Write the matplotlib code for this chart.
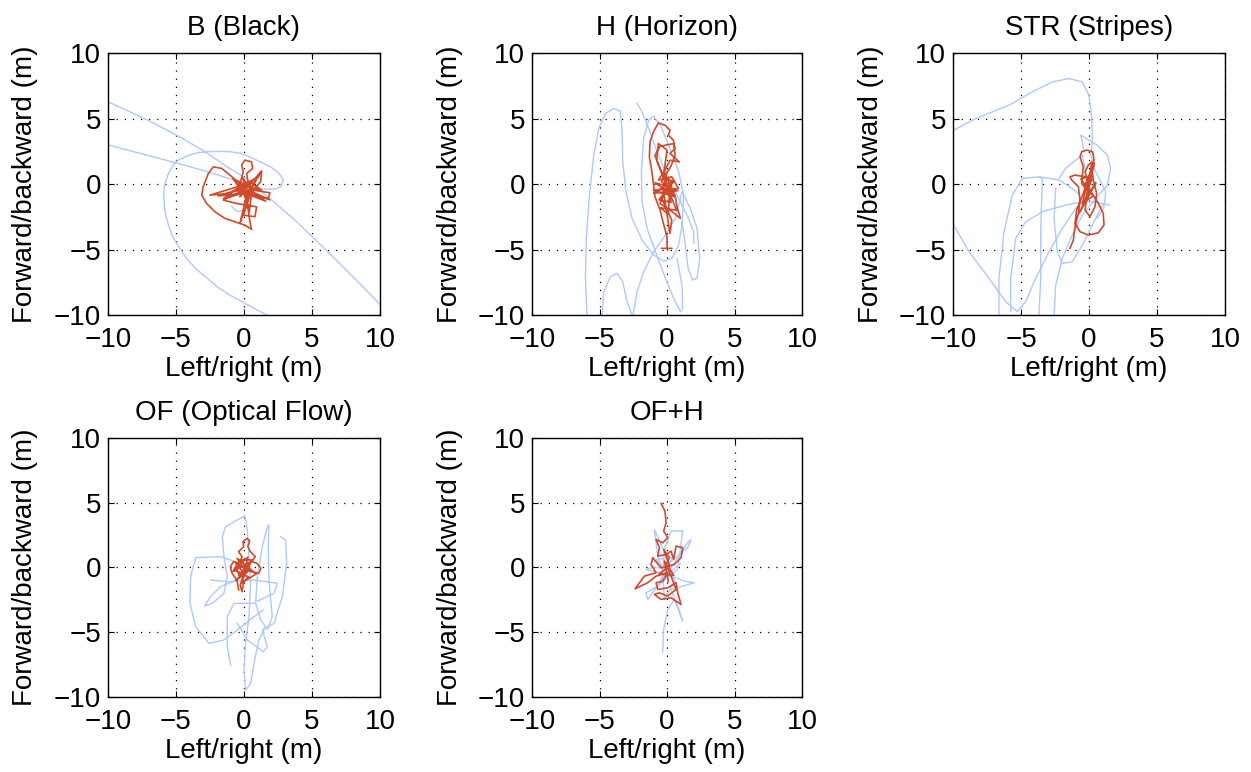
import numpy as np
import matplotlib
matplotlib.use("Agg")
import matplotlib.pyplot as plt

N = float("nan")  # breaks a track into separate pieces

titles = ["B (Black)", "H (Horizon)", "STR (Stripes)", "OF (Optical Flow)", "OF+H"]
ticks = [-10, -5, 0, 5, 10]

# B (Black)
b_blue = [(-10, 6.3), (-7.1, 4.9), (-4.7, 3.6), (-2.9, 2.5), (-1.2, 1.3), (0.2, 0.4), (1.2, -0.5),
          (2.2, -1.35), (3.9, -2.9), (6.4, -5.4), (8.8, -7.9), (10, -9.2), (N, N),
          (-10, 3.0), (-7.1, 2.2), (-4.9, 1.6), (-2.7, 0.95), (-0.7, 0.3), (0, 0.2), (N, N),
          (0.25, -0.3), (1.7, -0.4), (2.4, -0.35), (2.7, -0.2), (2.9, 0.3), (2.7, 0.65), (2.45, 0.95),
          (1.9, 1.35), (1.2, 1.7), (0.5, 2.05), (-0.25, 2.35), (-1.0, 2.48), (-1.7, 2.5), (-2.6, 2.48),
          (-3.4, 2.4), (-4.2, 2.15), (-4.9, 1.8), (-5.3, 1.3), (-5.6, 0.7), (-5.85, -0.1), (-5.9, -0.85),
          (-5.85, -1.65), (-5.75, -2.4), (-5.55, -3.15), (-5.3, -3.9), (-4.8, -4.8), (-4.2, -5.7),
          (-3.5, -6.5), (-2.7, -7.2), (-1.9, -7.9), (-1.0, -8.5), (-0.1, -9.0), (0.75, -9.5), (1.7, -10),
          (N, N), (-0.9, -1.7), (-0.5, -2.1), (-0.1, -2.0)]
b_red = [(-0.05, -0.2), (-1.03, 0.69), (-1.64, 1.2), (-2.25, 1.32), (-2.62, 0.81), (-3.0, -0.2),
         (-3.1, -0.84), (-2.75, -1.48), (-2.13, -2.11), (-1.4, -2.62), (-0.66, -2.88), (0.07, -3.13),
         (0.56, -3.46), (0.44, -2.88), (0.32, -1.98), (0.07, -0.97), (-0.29, 0.05), (-0.05, 0.94),
         (-0.17, 1.45), (0.07, 1.83), (0.56, 1.7), (0.64, 1.2), (0.2, 0.81), (0.32, 0.05), (-2.5, -0.84),
         (-1.03, -0.71), (1.05, 0.56), (1.3, 1.02), (1.23, 0.18), (0.69, -0.46), (1.91, -0.66),
         (1.79, -1.09), (0.93, -0.97), (-0.29, -0.59), (-1.52, -1.22), (-0.54, -1.48), (0.93, -1.73),
         (0.81, -2.49), (-0.05, -2.37), (0.32, -1.22), (-0.54, 0.05), (0.2, -0.2), (1.3, -0.46),
         (0.44, 0.18), (-0.29, -0.97), (0.07, -0.33), (0.2, -0.4), (1.6, -1.3), (0.1, -0.7),
         (-1.9, -0.9), (0.3, -0.2), (1.2, 0.9), (0.2, -1.0), (-0.8, 0.4), (0.6, -0.3), (0.4, -2.1),
         (0.0, -0.3), (1.9, -1.2), (0.3, -0.6), (-1.5, -1.1), (-0.2, -0.1), (0.9, 0.4), (0.1, -1.3),
         (-0.3, -3.0), (0.2, -1.6), (0.5, -0.1), (-0.6, -0.5), (0.8, -0.8), (-0.1, 0.5), (0.4, -1.1)]

# H (Horizon)
h_blue = [(-5.93, -10), (-6.05, -7.2), (-5.98, -4.15), (-5.75, -0.84), (-5.43, 2.21), (-5.06, 4.25),
          (-4.57, 5.39), (-3.95, 5.78), (-3.46, 5.57), (-3.33, 4.0), (-3.28, 1.7), (-3.04, -0.59),
          (-2.59, -2.62), (-1.85, -4.27), (-0.99, -5.42), (-0.25, -5.88), (0.37, -5.67), (0.86, -4.66),
          (1.11, -3.13), (1.23, -0.84), (0.86, 0.94), (0.12, 2.98), (-0.49, 4.5), (-0.99, 5.19),
          (-1.36, 4.89), (-1.73, 3.49), (-1.9, 0.94), (-1.85, -1.35), (-1.48, -3.38), (-0.86, -5.17),
          (-0.12, -7.2), (0.49, -8.73), (0.99, -9.75), (1.16, -9.49), (1.11, -7.71), (0.74, -5.67), (N, N),
          (-2.22, 6.16), (-1.85, 5.52), (-1.36, 4.25), (-0.74, 2.47), (0, 0.69), (0.74, -0.84),
          (1.48, -2.37), (1.98, -3.64), (1.98, -4.53), (N, N),
          (-4.81, -10), (-4.69, -8.22), (-4.2, -7.07), (-3.7, -6.82), (-3.28, -7.46), (-2.96, -8.98),
          (-2.59, -10), (N, N),
          (-2.52, -10), (-2.22, -8.22), (-1.73, -6.69), (-0.99, -5.17), (-0.12, -3.89), (0.62, -2.62),
          (1.11, -0.59), (1.73, -1.86), (2.22, -3.38), (2.42, -5.67), (2.22, -7.2), (1.9, -7.33),
          (1.56, -6.44), (1.36, -4.66), (1.11, -2.88)]
h_red = [(0, -4.91), (0, -4.02), (-0.27, -3.0), (-0.52, -1.98), (-0.89, -0.97), (-1.01, 0.05),
         (-1.14, 1.07), (-1.31, 2.09), (-1.26, 3.23), (-1.01, 3.99), (-0.64, 4.68), (-0.15, 4.5),
         (0.22, 4.12), (0.1, 3.74), (0.47, 3.36), (0.59, 2.72), (0.22, 2.34), (0.91, 1.7), (0.22, 1.83),
         (-0.15, 1.07), (-0.64, 0.31), (0.35, 0.56), (0.84, -0.33), (-1.01, -0.46), (-0.27, -0.71),
         (0.62, -0.97), (0.74, -1.73), (0.99, -2.62), (0.22, -1.98), (-0.52, -1.48), (0, -0.2),
         (-0.77, 1.83), (-0.64, 3.1), (0, 2.6), (-0.27, 0.56), (0.47, 0.18), (-0.4, -1.09),
         (0.35, -2.75), (0.22, -3.77), (-0.3, -0.3), (0.8, -0.5), (-1.0, -0.7), (0.5, 0.3),
         (-0.6, -1.2), (0.3, -1.4), (-0.2, 0.9), (0.6, -0.9), (-0.9, 0.1), (0.2, -0.2), (0.1, -2.3),
         (-0.5, -1.8), (0.7, -2.0), (-0.9, 2.2), (-0.5, 2.9), (0.5, 3.1), (0.6, 2.2), (0.3, 1.4),
         (-0.4, 0.2), (0.4, -0.6), (N, N), (-0.4, -4.91), (0.35, -4.91)]

# STR (Stripes)
s_blue = [(-9.95, 4.12), (-8.33, 5.01), (-5.88, 6.03), (-4.17, 7.05), (-2.7, 7.81), (-1.47, 8.07),
          (-0.49, 7.81), (0, 6.79), (0.2, 5.01), (0.25, 3.23), (0.12, 2.21), (0.49, 0.94), (1.23, -0.59),
          (1.1, -1.8), (0.6, -2.6), (N, N),
          (-9.95, -3.13), (-8.82, -5.17), (-7.35, -7.2), (-6.13, -8.98), (-5.27, -9.75), (-4.66, -8.98),
          (-3.92, -7.2), (-2.94, -5.17), (-1.96, -3.38), (-0.98, -1.86), (-0.25, -1.09), (N, N),
          (-6.62, -10), (-6.62, -7.2), (-6.25, -3.64), (-5.64, -0.84), (-4.9, 0.43), (-3.68, 0.56),
          (-2.21, 0.31), (-1.23, -0.33), (-0.7, -0.8), (N, N),
          (-5.76, -9.75), (-5.76, -7.2), (-5.39, -4.15), (-4.66, -2.88), (-3.43, -2.11), (-1.72, -1.6),
          (-0.49, -1.35), (0.6, -1.4), (1.5, -1.6), (N, N),
          (-3.68, -10), (-3.55, -7.2), (-3.55, -3.38), (-3.43, 0.43), (-3.68, 0.56), (N, N),
          (-2.45, -0.33), (-2.57, -2.62), (-2.33, -5.17), (-1.96, -6.06), (-1.23, -5.93), (-0.49, -4.66),
          (0.25, -3.13), (0.98, -1.6), (N, N),
          (-2.57, -10), (-2.45, -7.71), (-1.96, -5.67), (-1.23, -3.89), (-0.49, -2.37), (0.49, -1.09),
          (1.35, -0.08), (1.59, 1.2), (1.35, 2.21), (0.61, 2.98), (0, 3.36), (-0.61, 3.74), (-0.49, 3.23),
          (-0.37, 2.47), (N, N),
          (-2.21, 0.43), (-1.72, 1.2), (-0.98, 1.83), (-0.49, 2.21), (-0.25, 0.94)]
s_red = [(-1.4, -4.91), (-1.15, -4.27), (-1.03, -3.26), (-0.78, -2.24), (-0.66, -1.22), (-0.78, -0.2),
         (-1.27, 0.31), (-1.4, 0.56), (-1.03, 0.69), (-0.29, 0.56), (0.2, 0.31), (-0.17, -0.46),
         (-0.54, 0.05), (-0.42, 1.32), (-0.66, 2.09), (-0.54, 2.47), (-0.17, 2.6), (0.27, 2.47),
         (0.37, 1.83), (0.2, 1.2), (0.32, 0.31), (0.56, -0.71), (0.44, -1.73), (0.07, -2.49),
         (-0.29, -1.98), (-0.17, -0.97), (0.2, 1.7), (-0.05, 1.45), (-0.29, 0.94), (0.07, -0.46),
         (0.69, -1.48), (1.05, -2.24), (1.1, -3.13), (0.69, -3.72), (-0.05, -3.89), (-0.66, -3.64),
         (-1.03, -3.0), (-0.91, -1.98), (-0.42, -0.71), (-0.05, 0.56), (-0.6, 0.4), (0.3, -0.9),
         (-0.5, -1.5), (0.1, 0.9), (-0.3, -0.2), (0.4, 1.6), (-0.2, -1.1), (0.5, 0.1), (-0.7, -2.2),
         (0.0, -0.5)]

# OF (Optical Flow)
of_blue = [(0, -0.06), (-0.49, -0.97), (-1.72, -1.48), (-2.45, -2.25), (-2.89, -2.97), (-2.33, -2.77),
           (-1.47, -2.0), (-1.23, -0.71), (-1.47, 0.84), (-1.59, 2.38), (-1.35, 3.15), (-0.49, 3.67),
           (0.07, 3.98), (0.25, 2.9), (0.37, 0.84), (0.49, -1.22), (0.37, -3.8), (0.12, -5.86),
           (0, -7.92), (0.12, -9.46), (0.49, -8.95), (0.74, -7.4), (1.1, -5.6), (1.59, -4.57),
           (1.23, -4.05), (0.86, -2.77), (0.98, -0.71), (1.35, 1.61), (1.72, 3.15), (1.84, 3.28),
           (1.79, 1.61), (1.84, -0.97), (2.08, -3.8), (1.72, -4.8), (N, N),
           (-3.55, 0.76), (-1.72, 0.84), (-0.5, 0.4), (N, N),
           (-3.55, 0.76), (-3.92, -0.71), (-3.97, -2.77), (-3.55, -4.57), (-2.57, -5.86), (-1.47, -5.6),
           (-0.49, -4.83), (0.74, -3.8), (1.4, -3.3), (N, N),
           (2.7, 2.38), (3.06, 2.12), (3.14, 0.32), (2.82, -2.25), (2.21, -4.31), (1.35, -4.83),
           (1.72, -6.11), (1.42, -6.5), (0.25, -5.6), (-0.49, -4.31), (N, N),
           (-0.98, -7.53), (-1.23, -6.11), (-1.23, -3.8), (-0.74, -2.77), (0.74, -2.77), (N, N),
           (-2.45, -0.97), (-1.2, -1.1), (0.74, -0.97), (2.45, -1.22), (2.21, -2.0), (1.0, -2.6)]
of_red = [(-0.39, -1.74), (-0.51, -0.97), (-0.88, -0.45), (-1.0, 0.06), (-0.76, 0.45), (-0.27, 0.32),
          (-0.15, 0.84), (-0.39, 1.22), (-0.02, 1.61), (-0.07, 1.99), (0.22, 2.25), (0.42, 2.07),
          (0.29, 1.61), (0.47, 1.22), (0.83, 0.84), (0.59, 0.45), (0.96, 0.32), (1.25, -0.06),
          (1.08, -0.45), (0.47, -0.32), (-0.02, 0.06), (-0.64, -0.06), (-0.39, -0.45), (0.34, -0.71),
          (-0.02, -1.09), (-0.15, -1.87), (-0.27, -1.35), (0.22, -0.19), (0.59, 0.58), (-0.27, 0.58),
          (-0.76, -0.19), (0.1, -0.58), (-0.6, 0.3), (0.5, -0.2), (-0.4, -0.6), (0.6, 0.5),
          (-0.8, -0.3), (0.3, 0.8), (-0.2, -1.2), (0.9, -0.5), (-0.5, 0.7), (0.2, -0.4), (-0.6, -1.0),
          (0.4, 0.1)]

# OF+H
ofh_blue = [(-0.32, -6.54), (-0.25, -4.79), (0.05, -3.24), (0.54, -2.47), (1.16, -4.14), (0.79, -2.99),
            (0.3, -1.7), (2.02, -1.18), (1.28, -1.06), (0.05, -0.54), (-1.56, -0.15), (-1.19, -0.03),
            (0.3, -0.03), (1.53, 1.9), (1.78, 2.16), (1.53, 1.52), (0.17, 0.36), (-0.94, 2.93),
            (-0.69, 0.88), (-0.2, -0.67), (-1.43, -2.47), (-1.56, -1.96), (-0.69, -1.44), (0.79, -0.15),
            (1.16, 2.83), (0.3, 2.81), (-0.2, 1.39), (-0.32, -0.41), (-0.2, -2.47), (0.6, -1.0),
            (-0.8, 0.6), (0.4, 0.8), (-0.5, -1.0), (1.0, 0.3)]
ofh_red = [(-0.44, 4.94), (-0.15, 4.35), (-0.07, 3.45), (-0.25, 2.81), (0.05, 2.29), (-0.32, 1.9),
           (-0.81, 2.16), (-0.57, 1.52), (-0.69, 0.88), (-0.07, 1.0), (0.3, 1.26), (0.49, 0.62),
           (0.67, 1.65), (1.16, 1.52), (1.04, 0.75), (0.54, 0.23), (-0.44, -0.03), (-1.06, 0.75),
           (-1.19, 0.23), (-0.81, -0.41), (-1.68, -0.67), (-2.37, -1.65), (-1.43, -1.18), (-0.81, -0.67),
           (0.05, -0.41), (-0.32, -1.06), (-0.81, -1.18), (-0.69, -1.7), (0.05, -1.57), (0.67, -1.18),
           (0.79, -1.96), (1.04, -2.86), (0.3, -2.34), (-0.44, -2.47), (-0.94, -2.08), (-0.57, -1.96),
           (0.05, -2.21), (0.67, -1.7), (0.3, -0.67), (-0.07, 0.23), (0.17, 0.75), (-0.25, 1.39),
           (0.2, 0.1), (-0.6, -0.5), (0.5, -0.6), (-0.2, 0.5), (0.1, -1.1)]

blue_tracks = [b_blue, h_blue, s_blue, of_blue, ofh_blue]
red_tracks = [b_red, h_red, s_red, of_red, ofh_red]

plt.rcParams['font.family'] = ['Liberation Sans', 'DejaVu Sans']
plt.rcParams['font.size'] = 20

fig = plt.figure(figsize=(12.51, 7.72), dpi=100)
# axes boxes in figure fractions: [left, bottom, width, height]
boxes = [[0.0863, 0.592, 0.2174, 0.339], [0.4253, 0.592, 0.2158, 0.339], [0.7618, 0.592, 0.2174, 0.339],
         [0.0863, 0.0972, 0.2174, 0.3355], [0.4253, 0.0972, 0.2158, 0.3355]]

for i in range(5):
    ax = fig.add_axes(boxes[i])
    blue = np.array(blue_tracks[i])
    red = np.array(red_tracks[i])
    ax.plot(blue[:, 0], blue[:, 1], color='#adc9ff', lw=1.0)
    ax.plot(red[:, 0], red[:, 1], color='#d04a2c', lw=1.2)
    ax.set_xlim(-10, 10)
    ax.set_ylim(-10, 10)
    ax.set_xticks(ticks)
    ax.set_yticks(ticks)
    ax.grid(True, color='black', linestyle=(0, (1, 5.5)), linewidth=0.9)
    ax.tick_params(direction='in', length=4, top=True, right=True)
    ax.tick_params(axis='x', pad=9)
    ax.tick_params(axis='y', pad=5)
    for sp in ax.spines.values():
        sp.set_linewidth(1.0)
    ax.set_title(titles[i], fontsize=20, pad=13)
    ax.set_xlabel('Left/right (m)', labelpad=2)
    ax.set_ylabel('Forward/backward (m)', labelpad=11)

fig.savefig('out.png', dpi=100)
